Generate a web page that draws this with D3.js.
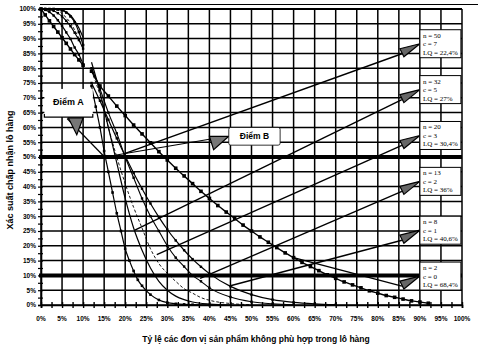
<!DOCTYPE html>
<html><head><meta charset="utf-8">
<script src="https://cdn.jsdelivr.net/npm/d3@7"></script>
<style>body{margin:0;background:#fff}svg{display:block}</style>
</head><body><svg id="c" width="478" height="349"></svg>
<script>
// ---------- data ----------
const xTicks = [0,5,10,15,20,25,30,35,40,45,50,55,60,65,70,75,80,85,90,95,100];
const yTicks = [0,5,10,15,20,25,30,35,40,45,50,55,60,65,70,75,80,85,90,95,100];
const xTickLabels = xTicks.map(d => d + "%");
const yTickLabels = yTicks.map(d => d + "%");
const thickLines = [50, 10];

// low part of the curves (0%..10% defective)
const pLow = [0,1,2,3,4,5,6,7,8,9,10];
const lowN50 = [100,100,100,100,99.9,99.6,98.8,97.5,95.5,92.2,87.8];
const lowN32 = [100,100,100,99.9,99.8,99.6,99.0,97.9,96.0,93.6,90.4];
const lowN20 = [100,100,100,99.8,99.6,98.4,97.1,95.3,92.9,90.0,86.7];
const lowN13 = [100,100,99.8,99.4,98.6,97.5,96.0,94.2,92.0,89.5,86.6];
const lowN8  = [100,99.7,99.0,97.8,96.2,94.3,92.1,89.9,87.0,84.6,81.3];
const lowN2  = [100,98.0,96.0,94.1,92.2,90.3,88.4,86.5,84.6,82.8,81.0];

// high part of the curves (12%.. defective)
const pHighN50 = [12,13,14,15,16,17,18,19,20,21,22,23,24,26,28,30,32,34,36,40];
const highN50  = [74,67,60,52,45,38,31,25,19,15,11.5,8.5,6.5,3.5,1.7,0.8,0.4,0.2,0.1,0];
const pHighN32 = [12,14,16,18,20,22,24,26,28,30,32,34,36,40,45];
const highN32  = [82,72,60,48,36,26,18.5,12.5,8,5,3,1.8,1,0.3,0];
const pHighN20 = [12,14,16,18,20,22,24,26,28,30,32,34,36,38,40,45,50];
const highN20  = [79,71,60,50,41,33,26,19,14,10.7,8,5.5,4,2.5,1.6,0.5,0.1];
const pHighN13 = [12,14,16,18,20,22,24,26,28,30,32,34,36,38,40,45,50,55,60];
const highN13  = [80,73,65,58,50,43,36,30,25,20,16,13,10,8,5.8,2.7,1.1,0.4,0.1];
const pHighN8  = [12,14,16,18,20,22,24,26,28,30,32,34,36,38,40,45,50,55,60,65,70];
const highN8   = [75,69,62.6,56.3,50.3,44.6,39.3,34.3,29.7,25.5,21.8,18.5,15.5,12.9,10.6,6.3,3.5,1.8,0.9,0.4,0.1];
const pHighN2  = [12,14,16,18,20,22,24,26,28,30,32,34,36,38,40,42,44,46,48,50,52,54,56,58,60,62,64,66,68,70,72,74,76,78,80,82,84,86,88,90,92];
const highN2   = [79,74,70.6,67.2,64,60.8,57.8,54.8,51.8,49,46.2,43.6,41,38.4,36,33.6,31.4,29.2,27,25,23,21.2,19.4,17.6,16,14.4,13,11.6,10.2,9,7.8,6.8,5.8,4.8,4,3.2,2.6,2,1.4,1,0.6];

// sampling plans (labels on the right)
const planN  = [50, 32, 20, 13, 8, 2];
const planC  = [7, 5, 3, 2, 1, 0];
const planLQ = ["22,4%", "27%", "30,4%", "36%", "40,6%", "68,4%"];
const planBoxTop = [93, 77.5, 62, 46.5, 30, 14.5];     // % acceptance (box top)
const planTarget = [[19.5,51],[22.3,25.3],[27.5,17],[37.8,9],[45,6.5],[60,16]]; // where each pointer line ends

const pointLabels = ["Điểm A", "Điểm B"];

// ---------- drawing ----------
const svg = d3.select("#c");
const x = d3.scaleLinear().domain([0,100]).range([41,462]);
const y = d3.scaleLinear().domain([0,100]).range([305,9]);

// top frame line
svg.append("line").attr("x1",40).attr("x2",478).attr("y1",4.5).attr("y2",4.5)
  .attr("stroke","#000").attr("stroke-width",1.2);

// grid
const g = svg.append("g");
g.selectAll(".vg").data(xTicks).join("line")
  .attr("x1",d=>x(d)).attr("x2",d=>x(d)).attr("y1",y(0)).attr("y2",y(100))
  .attr("stroke","#000").attr("stroke-width",1.5);
g.selectAll(".hg").data(yTicks).join("line")
  .attr("x1",x(0)).attr("x2",x(100)).attr("y1",d=>y(d)).attr("y2",d=>y(d))
  .attr("stroke","#000").attr("stroke-width",d=> d===100 ? 2 : 1.5);
g.selectAll(".tk").data(thickLines).join("line")
  .attr("x1",x(0)-2).attr("x2",x(100)).attr("y1",d=>y(d)).attr("y2",d=>y(d))
  .attr("stroke","#000").attr("stroke-width",4);

// axes with minor ticks
const xAxis = d3.axisBottom(x).tickValues(d3.range(0,100.1,2.5)).tickSize(3).tickFormat("");
svg.append("g").attr("transform",`translate(0,${y(0)})`).call(xAxis)
  .call(s=>{s.select(".domain").attr("stroke-width",1.6);s.selectAll(".tick line").attr("y1",-3).attr("stroke-width",1.4);});
const yAxis = d3.axisLeft(y).tickValues(d3.range(0,100.1,2.5)).tickSize(3).tickFormat("");
svg.append("g").attr("transform",`translate(${x(0)},0)`).call(yAxis)
  .call(s=>{s.select(".domain").attr("stroke-width",1.6);s.selectAll(".tick line").attr("x1",2).attr("stroke-width",1.2);});

// tick labels
svg.selectAll(".xl").data(xTicks).join("text")
  .attr("x",d=>x(d)).attr("y",y(0)+16).attr("text-anchor","middle")
  .attr("font-family","Liberation Sans, Arial").attr("font-size",6.5).attr("font-weight","bold")
  .text((d,i)=>xTickLabels[i]);
svg.selectAll(".yl").data(yTicks).join("text")
  .attr("x",x(0)-5).attr("y",d=>y(d)+2.3).attr("text-anchor","end")
  .attr("font-family","Liberation Sans, Arial").attr("font-size",6.5).attr("font-weight","bold")
  .text((d,i)=>yTickLabels[i]);

// axis titles
svg.append("text").attr("x",256).attr("y",342).attr("text-anchor","middle")
  .attr("font-family","Liberation Sans, Arial").attr("font-size",8.5).attr("font-weight","bold")
  .text("Tỷ lệ các đơn vị sản phẩm không phù hợp trong lô hàng");
svg.append("text").attr("transform","translate(13,170) rotate(-90)").attr("text-anchor","middle")
  .attr("font-family","Liberation Sans, Arial").attr("font-size",9).attr("font-weight","bold")
  .text("Xác suất chấp nhận lô hàng");

// curves
const line = d3.line().x(d=>x(d[0])).y(d=>y(d[1])).curve(d3.curveMonotoneX);
const series = [
  {low: lowN50, hp: pHighN50, high: highN50, dash: null, mk: 1.3, w: 1.2},
  {low: lowN32, hp: pHighN32, high: highN32, dash: null, mk: 0,   w: 1.2},
  {low: lowN20, hp: pHighN20, high: highN20, dash: "3,2", mk: 0,  w: 0.9},
  {low: lowN13, hp: pHighN13, high: highN13, dash: null, mk: 1.2, w: 1.1},
  {low: lowN8,  hp: pHighN8,  high: highN8,  dash: null, mk: 1.2, w: 1.2},
  {low: lowN2,  hp: pHighN2,  high: highN2,  dash: null, mk: 1.8, w: 1.4}
];
const cg = svg.append("g");
series.forEach(s=>{
  const segs = [pLow.map((p,i)=>[p,s.low[i]]), s.hp.map((p,i)=>[p,s.high[i]])];
  segs.forEach(seg=>{
    cg.append("path").attr("d",line(seg)).attr("fill","none").attr("stroke","#000")
      .attr("stroke-width",s.w).attr("stroke-dasharray",s.dash);
    if (s.mk>0) cg.selectAll(null).data(seg).join("rect")
      .attr("x",d=>x(d[0])-s.mk).attr("y",d=>y(d[1])-s.mk).attr("width",2*s.mk).attr("height",2*s.mk)
      .attr("fill","#000");
  });
});

// pointer lines + triangles + label boxes
const ann = svg.append("g");
const boxX = x(90), boxW = 41, boxH = 28;
planN.forEach((n,i)=>{
  const top = y(planBoxTop[i]);
  const tipX = boxX-20, tipY = top+boxH-6;
  const t = planTarget[i];
  ann.append("line").attr("x1",tipX+2).attr("y1",tipY+2).attr("x2",x(t[0])).attr("y2",y(t[1]))
    .attr("stroke","#000").attr("stroke-width",1.4);
  ann.append("path").attr("d",`M${tipX},${tipY-3} L${boxX},${tipY-8} L${tipX+4},${tipY+5} Z`)
    .attr("fill","#666").attr("stroke","#000").attr("stroke-width",1.2);
  ann.append("rect").attr("x",boxX).attr("y",top).attr("width",boxW).attr("height",boxH)
    .attr("fill","#fff").attr("stroke","#000").attr("stroke-width",1);
  const tx = ann.append("text").attr("font-family","Liberation Serif, Times New Roman").attr("font-size",7);
  [`n = ${n}`, `c = ${planC[i]}`, `LQ = ${planLQ[i]}`].forEach((s,k)=>{
    tx.append("tspan").attr("x",boxX+3).attr("y",top+8+k*8.5).text(s);
  });
});

// Điểm A
const aCx = x(6.5), aCy = y(68.5);
ann.append("rect").attr("x",x(0.8)).attr("y",y(73)).attr("width",x(12.3)-x(0.8)).attr("height",y(63.5)-y(73)).attr("fill","#fff");
ann.append("path").attr("d",`M${x(0.8)},${y(64.5)} L${x(0.8)},${y(63.5)} L${x(12.3)},${y(63.5)} L${x(12.3)},${y(64.5)}`)
  .attr("fill","none").attr("stroke","#000").attr("stroke-width",1.2);
ann.append("text").attr("x",aCx).attr("y",aCy+3).attr("text-anchor","middle")
  .attr("font-family","Liberation Sans, Arial").attr("font-size",9).attr("font-weight","bold").text(pointLabels[0]);
ann.append("line").attr("x1",x(6.2)).attr("y1",y(63)).attr("x2",x(15.1)).attr("y2",y(50)).attr("stroke","#000").attr("stroke-width",1.2);
ann.append("path").attr("d",`M${x(6.5)},${y(63.2)} L${x(10)},${y(63.2)} L${x(8.5)},${y(57.5)} Z`)
  .attr("fill","#777").attr("stroke","#000").attr("stroke-width",1.2);

// Điểm B
const bx0 = x(44.6), by0 = y(60);
ann.append("line").attr("x1",x(40)).attr("y1",y(56)).attr("x2",x(15.1)).attr("y2",y(50)).attr("stroke","#000").attr("stroke-width",1.2);
ann.append("path").attr("d",`M${x(40)},${y(57)} L${bx0},${y(57)} L${x(41)},${y(52.5)} Z`)
  .attr("fill","#777").attr("stroke","#000").attr("stroke-width",1.2);
ann.append("rect").attr("x",bx0).attr("y",by0).attr("width",x(56.8)-bx0).attr("height",y(54)-by0).attr("rx",2)
  .attr("fill","#fff").attr("stroke","#000").attr("stroke-width",0.8);
ann.append("text").attr("x",(bx0+x(56.8))/2).attr("y",y(57)+3).attr("text-anchor","middle")
  .attr("font-family","Liberation Sans, Arial").attr("font-size",8.5).attr("font-weight","bold").text(pointLabels[1]);
</script></body></html>
